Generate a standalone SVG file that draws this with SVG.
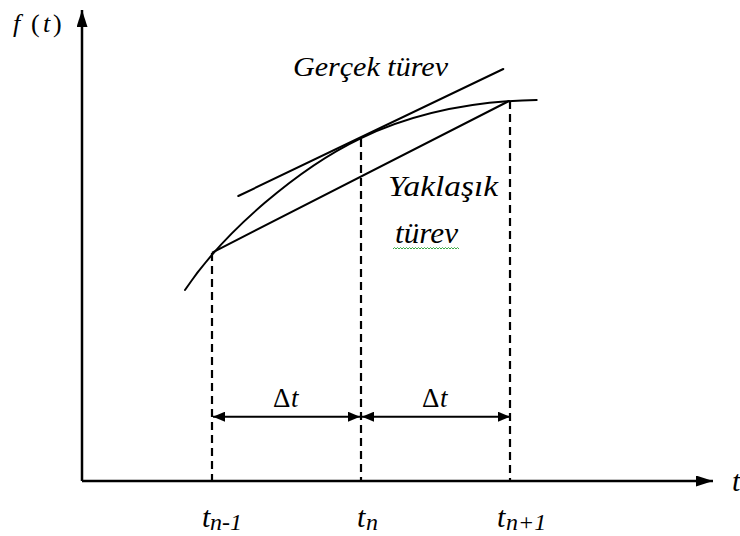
<svg xmlns="http://www.w3.org/2000/svg" width="740" height="536" viewBox="0 0 740 536">
<defs>
<style>
.ln{fill:none;stroke:#000;stroke-width:2;stroke-linecap:round}
.ax{fill:none;stroke:#000;stroke-width:2.5}
.dash{fill:none;stroke:#000;stroke-width:2.2;stroke-dasharray:8 5}
text{font-family:'Liberation Serif','Times New Roman','DejaVu Serif',serif;fill:#000}
.it{font-style:italic}
</style>
<marker id="ah" viewBox="0 0 12 10" refX="12" refY="5" markerWidth="12" markerHeight="10" markerUnits="userSpaceOnUse" orient="auto-start-reverse">
<path d="M0,0 L12,5 L0,10 Z" fill="#000"/>
</marker>
<marker id="axh" viewBox="0 0 17 11" refX="17" refY="5.5" markerWidth="17" markerHeight="11" markerUnits="userSpaceOnUse" orient="auto">
<path d="M0,0 L17,5.5 L0,11 Z" fill="#000"/>
</marker>
</defs>
<rect width="740" height="536" fill="#fff"/>
<g id="axes">
<path class="ax" d="M82,481 L82,10" marker-end="url(#axh)"/>
<path class="ax" d="M82,481 L713,481" marker-end="url(#axh)"/>
</g>
<g id="curve">
<path class="ln" d="M185,290 C225,230 300,167.4 360.7,138.3 C420,109.9 480,101 536.7,100"/>
</g>
<g id="tangent">
<line class="ln" x1="238.3" y1="196" x2="503.3" y2="69"/>
</g>
<g id="secant">
<line class="ln" x1="212.7" y1="252.3" x2="509" y2="101"/>
</g>
<g id="connectors">
<line class="dash" x1="212" y1="253" x2="212" y2="481"/>
<line class="dash" x1="361" y1="139" x2="361" y2="481"/>
<line class="dash" x1="510" y1="101" x2="510" y2="481"/>
<line x1="213" y1="416.7" x2="360" y2="416.7" stroke="#000" stroke-width="2" marker-start="url(#ah)" marker-end="url(#ah)"/>
<line x1="362" y1="416.7" x2="510" y2="416.7" stroke="#000" stroke-width="2" marker-start="url(#ah)" marker-end="url(#ah)"/>
</g>
<g id="labels" font-family="'Liberation Serif','Times New Roman','DejaVu Serif',serif">
<text y="32" font-size="26"><tspan class="it" x="13">f</tspan><tspan x="31">(</tspan><tspan class="it" x="43">t</tspan><tspan x="53">)</tspan></text>
<text class="it" x="732" y="491" font-size="30">t</text>
<text class="it" x="293" y="76" font-size="28" textLength="155" lengthAdjust="spacingAndGlyphs">Gerçek türev</text>
<text class="it" x="388" y="196" font-size="29" textLength="110" lengthAdjust="spacingAndGlyphs">Yaklaşık</text>
<text class="it" x="395" y="243" font-size="29" textLength="63" lengthAdjust="spacingAndGlyphs">türev</text>
<path d="M393,249 l1.5,-1.5 l1.5,1.5 l1.5,-1.5 l1.5,1.5 l1.5,-1.5 l1.5,1.5 l1.5,-1.5 l1.5,1.5 l1.5,-1.5 l1.5,1.5 l1.5,-1.5 l1.5,1.5 l1.5,-1.5 l1.5,1.5 l1.5,-1.5 l1.5,1.5 l1.5,-1.5 l1.5,1.5 l1.5,-1.5 l1.5,1.5 l1.5,-1.5 l1.5,1.5 l1.5,-1.5 l1.5,1.5 l1.5,-1.5 l1.5,1.5 l1.5,-1.5 l1.5,1.5 l1.5,-1.5 l1.5,1.5 l1.5,-1.5 l1.5,1.5 l1.5,-1.5 l1.5,1.5 l1.5,-1.5 l1.5,1.5 l1.5,-1.5 l1.5,1.5 l1.5,-1.5 l1.5,1.5 l1.5,-1.5 l1.5,1.5 l1.5,-1.5 l1.5,1.5" fill="none" stroke="#3aa845" stroke-width="1"/>
<text y="407" font-size="27"><tspan x="273">Δ</tspan><tspan class="it" x="291">t</tspan></text>
<text y="407" font-size="27"><tspan x="422">Δ</tspan><tspan class="it" x="440">t</tspan></text>
<text class="it" y="527" font-size="30"><tspan x="202">t</tspan><tspan x="210" y="530" font-size="24">n-1</tspan></text>
<text class="it" y="527" font-size="30"><tspan x="357">t</tspan><tspan x="366" y="530" font-size="24">n</tspan></text>
<text class="it" y="527" font-size="30"><tspan x="497">t</tspan><tspan x="506" y="530" font-size="24">n+1</tspan></text>
</g>
</svg>
